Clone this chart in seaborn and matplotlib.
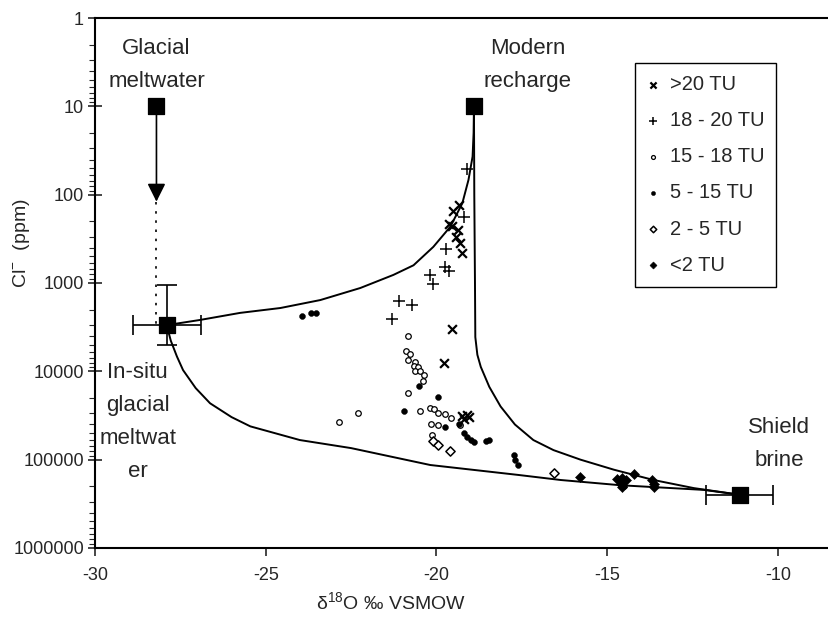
import numpy as np
import matplotlib
matplotlib.use("Agg")
import matplotlib.pyplot as plt
from matplotlib.ticker import FixedLocator, LogLocator, NullFormatter
import seaborn as sns

# end members: glacial meltwater, modern recharge, in-situ glacial, shield brine
glacial_x, glacial_cl = -28.2, 10
modern_x, modern_cl = -18.9, 10
insitu_x, insitu_cl = -27.9, 3000
brine_x, brine_cl = -11.1, 250000

# mixing curves
upper_x = [-27.9, -27.4, -26.92, -25.75, -24.57, -23.4, -22.23, -21.26, -20.67, -20.09, -19.59,
           -19.24, -19.06, -18.94, -18.91, -18.9]
upper_cl = [3000, 2800, 2620, 2180, 1920, 1560, 1140, 810, 630, 390, 230, 125, 68, 37, 20, 10]
right_x = [-18.9, -18.89, -18.87, -18.86, -18.8, -18.7, -18.45, -18.12, -17.7, -17.16, -16.57,
           -15.78, -14.8, -13.64, -12.46, -11.1]
right_cl = [10, 100, 1000, 4100, 6500, 8900, 15000, 25000, 40000, 60000, 78000,
            100000, 130000, 170000, 210000, 250000]
lower_x = [-27.9, -27.78, -27.6, -27.42, -27.05, -26.63, -26.0, -25.45, -24.0, -22.5, -20.18,
           -17.6, -16.36, -14.6, -12.17, -11.1]
lower_cl = [3000, 4500, 6800, 9700, 15500, 23000, 33000, 42000, 60000, 74000, 115000,
            149000, 170000, 195000, 220000, 250000]

# samples by tritium class
tu20_x = [-19.5, -19.33, -19.62, -19.55, -19.36, -19.44, -19.3, -19.24, -19.53, -19.77, -19.25, -19.1, -19.2, -19.05]
tu20_cl = [153, 130, 215, 225, 250, 300, 355, 460, 3300, 8000, 32000, 31000, 35000, 33000]
tu18_x = [-19.09, -19.18, -19.71, -19.74, -19.62, -20.2, -20.1, -21.11, -20.7, -21.3]
tu18_cl = [51, 180, 410, 660, 730, 810, 1030, 1600, 1780, 2550]
tu15_x = [-20.82, -20.9, -20.76, -20.82, -20.62, -20.67, -20.53, -20.62, -20.47, -20.35, -20.38, -20.82,
          -22.29, -22.84, -20.47, -20.2, -20.06, -19.94, -19.74, -19.56, -20.15, -19.94, -20.12, -19.3]
tu15_cl = [4000, 5900, 6300, 7400, 7800, 8700, 8900, 10000, 9900, 11000, 13000, 17600,
           29500, 37000, 28000, 26000, 27000, 29500, 30500, 34000, 39000, 41000, 53000, 41000]
tu5_x = [-23.93, -23.67, -23.52, -20.5, -19.94, -20.94, -19.74, -19.35, -19.2, -19.1, -19.0, -18.9,
         -18.56, -18.45, -17.74, -17.7, -17.6, -14.55, -14.5]
tu5_cl = [2350, 2200, 2200, 14700, 19500, 28000, 43000, 40000, 50000, 55000, 60000, 63000,
          61000, 60000, 89000, 100000, 115000, 185000, 200000]
tu2_x = [-20.1, -19.95, -19.6, -16.55]
tu2_cl = [61000, 68000, 80000, 142000]
tu0_x = [-15.78, -14.7, -14.55, -14.45, -14.6, -14.55, -14.2, -13.67, -13.62, -13.62]
tu0_cl = [158000, 165000, 160000, 170000, 190000, 205000, 145000, 170000, 190000, 205000]

sns.set_style("ticks")
plt.rcParams['font.family'] = ['Liberation Sans', 'DejaVu Sans']
plt.rcParams['mathtext.fontset'] = 'custom'
plt.rcParams['mathtext.rm'] = 'Liberation Sans'

fig = plt.figure(figsize=(8.29, 6.21), dpi=100)
ax = fig.add_axes([0.1146, 0.1176, 0.8854, 0.8534])
ax.set_yscale('log')

# mixing lines
for cx, cy in [(upper_x, upper_cl), (right_x, right_cl), (lower_x, lower_cl)]:
    sns.lineplot(x=cx, y=cy, sort=False, estimator=None, color='black', linewidth=1.4, ax=ax)

# arrow + dotted path from glacial meltwater down to in-situ
ax.annotate('', xy=(glacial_x, 120), xytext=(glacial_x, glacial_cl),
            arrowprops=dict(arrowstyle='-|>,head_length=1.1,head_width=0.55', color='black', lw=1.2,
                            shrinkA=0, shrinkB=0))
ax.plot([glacial_x, glacial_x], [120, insitu_cl], color='black', lw=1.2, ls=(0, (1.5, 4)))

# error bars on end members
ax.errorbar([insitu_x], [insitu_cl], xerr=[[1.0], [1.0]], yerr=[[insitu_cl - 1050], [5000 - insitu_cl]],
            fmt='none', ecolor='black', elinewidth=1.2, capsize=7, capthick=1.2)
ax.errorbar([brine_x], [brine_cl], xerr=[[1.0], [0.95]], fmt='none', ecolor='black',
            elinewidth=1.2, capsize=7, capthick=1.2)

# end-member squares
sns.scatterplot(x=[glacial_x, modern_x, insitu_x, brine_x], y=[glacial_cl, modern_cl, insitu_cl, brine_cl],
                marker='s', s=130, color='black', edgecolor='black', ax=ax, zorder=5)

# samples
sns.scatterplot(x=tu20_x, y=tu20_cl, marker='x', s=40, color='black', linewidth=1.6, label='>20 TU', ax=ax)
sns.scatterplot(x=tu18_x, y=tu18_cl, marker='+', s=75, color='black', linewidth=1.1, label='18 - 20 TU', ax=ax)
sns.scatterplot(x=tu15_x, y=tu15_cl, marker='o', s=16, color='white', edgecolor='black', linewidth=0.9,
                label='15 - 18 TU', ax=ax)
sns.scatterplot(x=tu5_x, y=tu5_cl, marker='o', s=18, color='black', edgecolor='black', label='5 - 15 TU', ax=ax)
sns.scatterplot(x=tu2_x, y=tu2_cl, marker='D', s=22, color='white', edgecolor='black', linewidth=1.1,
                label='2 - 5 TU', ax=ax)
sns.scatterplot(x=tu0_x, y=tu0_cl, marker='D', s=26, color='black', edgecolor='black', label='<2 TU', ax=ax)

# labels on the end members
tkw = dict(fontsize=16, ha='center', va='center', linespacing=1.75)
ax.text(-28.2, 3.4, 'Glacial\nmeltwater', **tkw)
ax.text(-17.33, 3.4, 'Modern\nrecharge', **tkw)
ax.text(-28.75, 37000, 'In-situ\nglacial\nmeltwat\ner', **tkw)
ax.text(-9.97, 67000, 'Shield\nbrine', **tkw)

ax.set_xlim(-30, -8.5)
ax.set_ylim(1000000, 1)
ax.xaxis.set_major_locator(FixedLocator([-30, -25, -20, -15, -10]))
ax.set_xticklabels(['-30', '-25', '-20', '-15', '-10'])
ax.yaxis.set_major_locator(FixedLocator([1, 10, 100, 1000, 10000, 100000, 1000000]))
ax.set_yticklabels(['1', '10', '100', '1000', '10000', '100000', '1000000'])
ax.yaxis.set_minor_locator(LogLocator(base=10, subs=np.arange(2, 10)))
ax.yaxis.set_minor_formatter(NullFormatter())
ax.tick_params(axis='y', which='major', direction='inout', length=10, width=1.2, labelsize=13, pad=3)
ax.tick_params(axis='y', which='minor', direction='out', length=4, width=0.8)
ax.tick_params(axis='x', which='major', direction='out', length=6, width=1.2, labelsize=13, pad=8)

ax.spines['right'].set_visible(False)
for s in ['left', 'top', 'bottom']:
    ax.spines[s].set_linewidth(1.5)
    ax.spines[s].set_color('black')

ax.set_xlabel('δ$^{18}$O ‰ VSMOW', fontsize=14)
ax.set_ylabel('Cl$^{-}$  (ppm)', fontsize=14)
ax.xaxis.set_label_coords(0.403, -0.083)
ax.yaxis.set_label_coords(-0.086, 0.575)

leg = ax.legend(loc='upper right', bbox_to_anchor=(0.928, 0.915), borderaxespad=0, fontsize=14.5,
                frameon=True, fancybox=False, edgecolor='black', framealpha=1, labelspacing=0.85,
                handlelength=0.6, handletextpad=0.5, borderpad=0.6, markerscale=0.7)
leg.get_frame().set_linewidth(1.0)

fig.savefig('out.png', dpi=100)
